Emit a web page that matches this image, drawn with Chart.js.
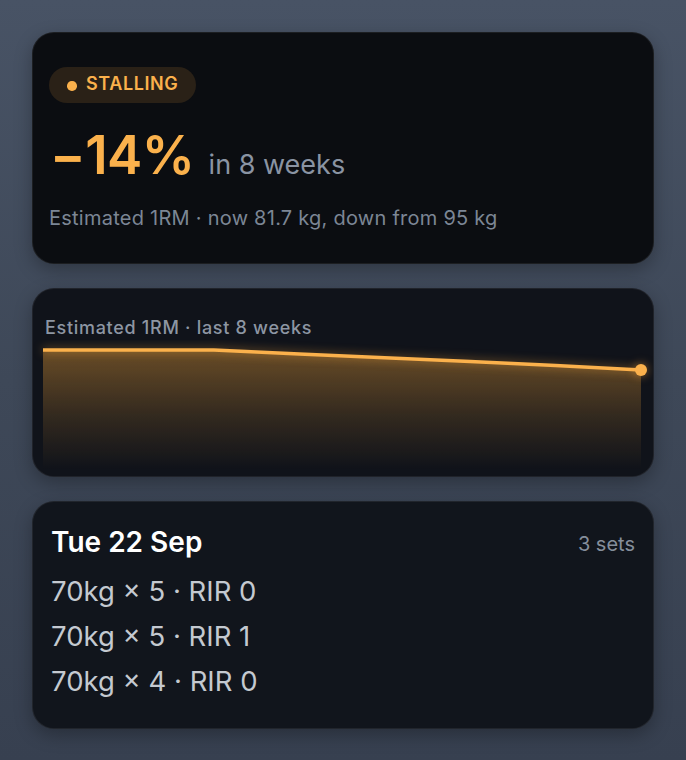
<!DOCTYPE html>
<html>
<head>
<meta charset="utf-8">
<script src="https://cdn.jsdelivr.net/npm/chart.js@4.4.1/dist/chart.umd.min.js"></script>
<style>
  html, body { margin: 0; padding: 0; }
  body {
    width: 686px; height: 760px; overflow: hidden;
    background: linear-gradient(180deg, #485365 0%, #3e4858 50%, #374050 100%);
    font-family: Inter, "Noto Sans", sans-serif;
    position: relative;
    line-height: 1;
  }
  .card {
    position: absolute; left: 32px; width: 620px;
    border: 1px solid rgba(255,255,255,0.07);
    border-radius: 22px;
    box-shadow: 0 6px 18px rgba(0,0,0,0.28);
    overflow: hidden;
  }
  .card div { white-space: nowrap; }
  #c1 { top: 32px; height: 230px; background: #0b0d11; }
  #c2 { top: 288px; height: 187px; background: #10131a; }
  #c3 { top: 501px; height: 226px; background: #11151c; }
  .badge {
    position: absolute; left: 16px; top: 34px; height: 36px; width: 147px;
    border-radius: 18px; background: #2a2117;
  }
  .dot { position: absolute; left: 18px; top: 14px; width: 9.5px; height: 9.5px; border-radius: 50%; background: #fbb14c; }
  .badgeText { position: absolute; left: 37px; top: 8px; font-size: 18px; font-weight: 600; color: #fbb14c; letter-spacing: 0.6px; }
  .big { position: absolute; left: 17px; top: 96px; font-size: 53px; font-weight: 600; color: #fbb14c; letter-spacing: -0.5px; }
  .big span { font-size: 27px; font-weight: 400; color: #8a94a3; letter-spacing: 0; margin-left: 14px; }
  .sub { position: absolute; left: 16px; top: 175px; font-size: 20px; color: #7c8695; letter-spacing: 0.25px; }
  .ctitle { position: absolute; left: 12px; top: 30px; font-size: 18px; font-weight: 500; color: #8d96a3; letter-spacing: 0.7px; }
  #chartWrap { position: absolute; left: 0px; top: 51px; width: 620px; height: 136px; }
  .date { position: absolute; left: 18px; top: 26px; font-size: 28px; font-weight: 600; color: #ffffff; }
  .sets { position: absolute; right: 18px; top: 32px; font-size: 20px; color: #858e9b; }
  .set { position: absolute; left: 18px; font-size: 27.5px; color: #c4c9d0; }
</style>
</head>
<body>
<div class="card" id="c1">
  <div class="badge"><div class="dot"></div><div class="badgeText">STALLING</div></div>
  <div class="big">−14%<span>in 8 weeks</span></div>
  <div class="sub">Estimated 1RM · now 81.7 kg, down from 95 kg</div>
</div>
<div class="card" id="c2">
  <div class="ctitle">Estimated 1RM · last 8 weeks</div>
  <div id="chartWrap"><canvas id="chart"></canvas></div>
</div>
<div class="card" id="c3">
  <div class="date">Tue 22 Sep</div>
  <div class="sets">3 sets</div>
  <div class="set" style="top:76px">70kg × 5 · RIR 0</div>
  <div class="set" style="top:121px">70kg × 5 · RIR 1</div>
  <div class="set" style="top:166px">70kg × 4 · RIR 0</div>
</div>
<script>
const weeks = ["W1", "W2", "W3", "W4", "W5", "W6", "W7", "W8"];
const oneRepMax = [95, 95, 95, 92.3, 89.9, 87.4, 84.7, 81.7];
const yMin = 15;
const yMax = 95;

const glow = {
  id: 'glow',
  beforeDatasetDraw(chart) {
    chart.ctx.save();
    chart.ctx.shadowColor = 'rgba(251,170,60,0.55)';
    chart.ctx.shadowBlur = 10;
  },
  afterDatasetDraw(chart) { chart.ctx.restore(); }
};

const ctx = document.getElementById('chart');
new Chart(ctx, {
  type: 'line',
  data: {
    labels: weeks,
    datasets: [{
      data: oneRepMax,
      borderColor: '#fbb14c',
      borderWidth: 3.5,
      tension: 0,
      clip: false,
      fill: 'start',
      backgroundColor: (c) => {
        const a = c.chart.chartArea;
        if (!a) return 'rgba(251,170,60,0.3)';
        const g = c.chart.ctx.createLinearGradient(0, a.top, 0, a.bottom);
        g.addColorStop(0, 'rgba(251,170,60,0.38)');
        g.addColorStop(0.55, 'rgba(251,170,60,0.15)');
        g.addColorStop(1, 'rgba(251,170,60,0)');
        return g;
      },
      pointRadius: (c) => c.dataIndex === oneRepMax.length - 1 ? 6 : 0,
      pointBackgroundColor: '#fbb14c',
      pointBorderWidth: 0,
      pointHoverRadius: 0
    }]
  },
  options: {
    responsive: true,
    maintainAspectRatio: false,
    animation: false,
    layout: { padding: { left: 10, right: 12, top: 10, bottom: 6 } },
    plugins: { legend: { display: false }, tooltip: { enabled: false } },
    scales: {
      x: { display: false, offset: false },
      y: { display: false, min: yMin, max: yMax }
    }
  },
  plugins: [glow]
});
</script>
</body>
</html>
